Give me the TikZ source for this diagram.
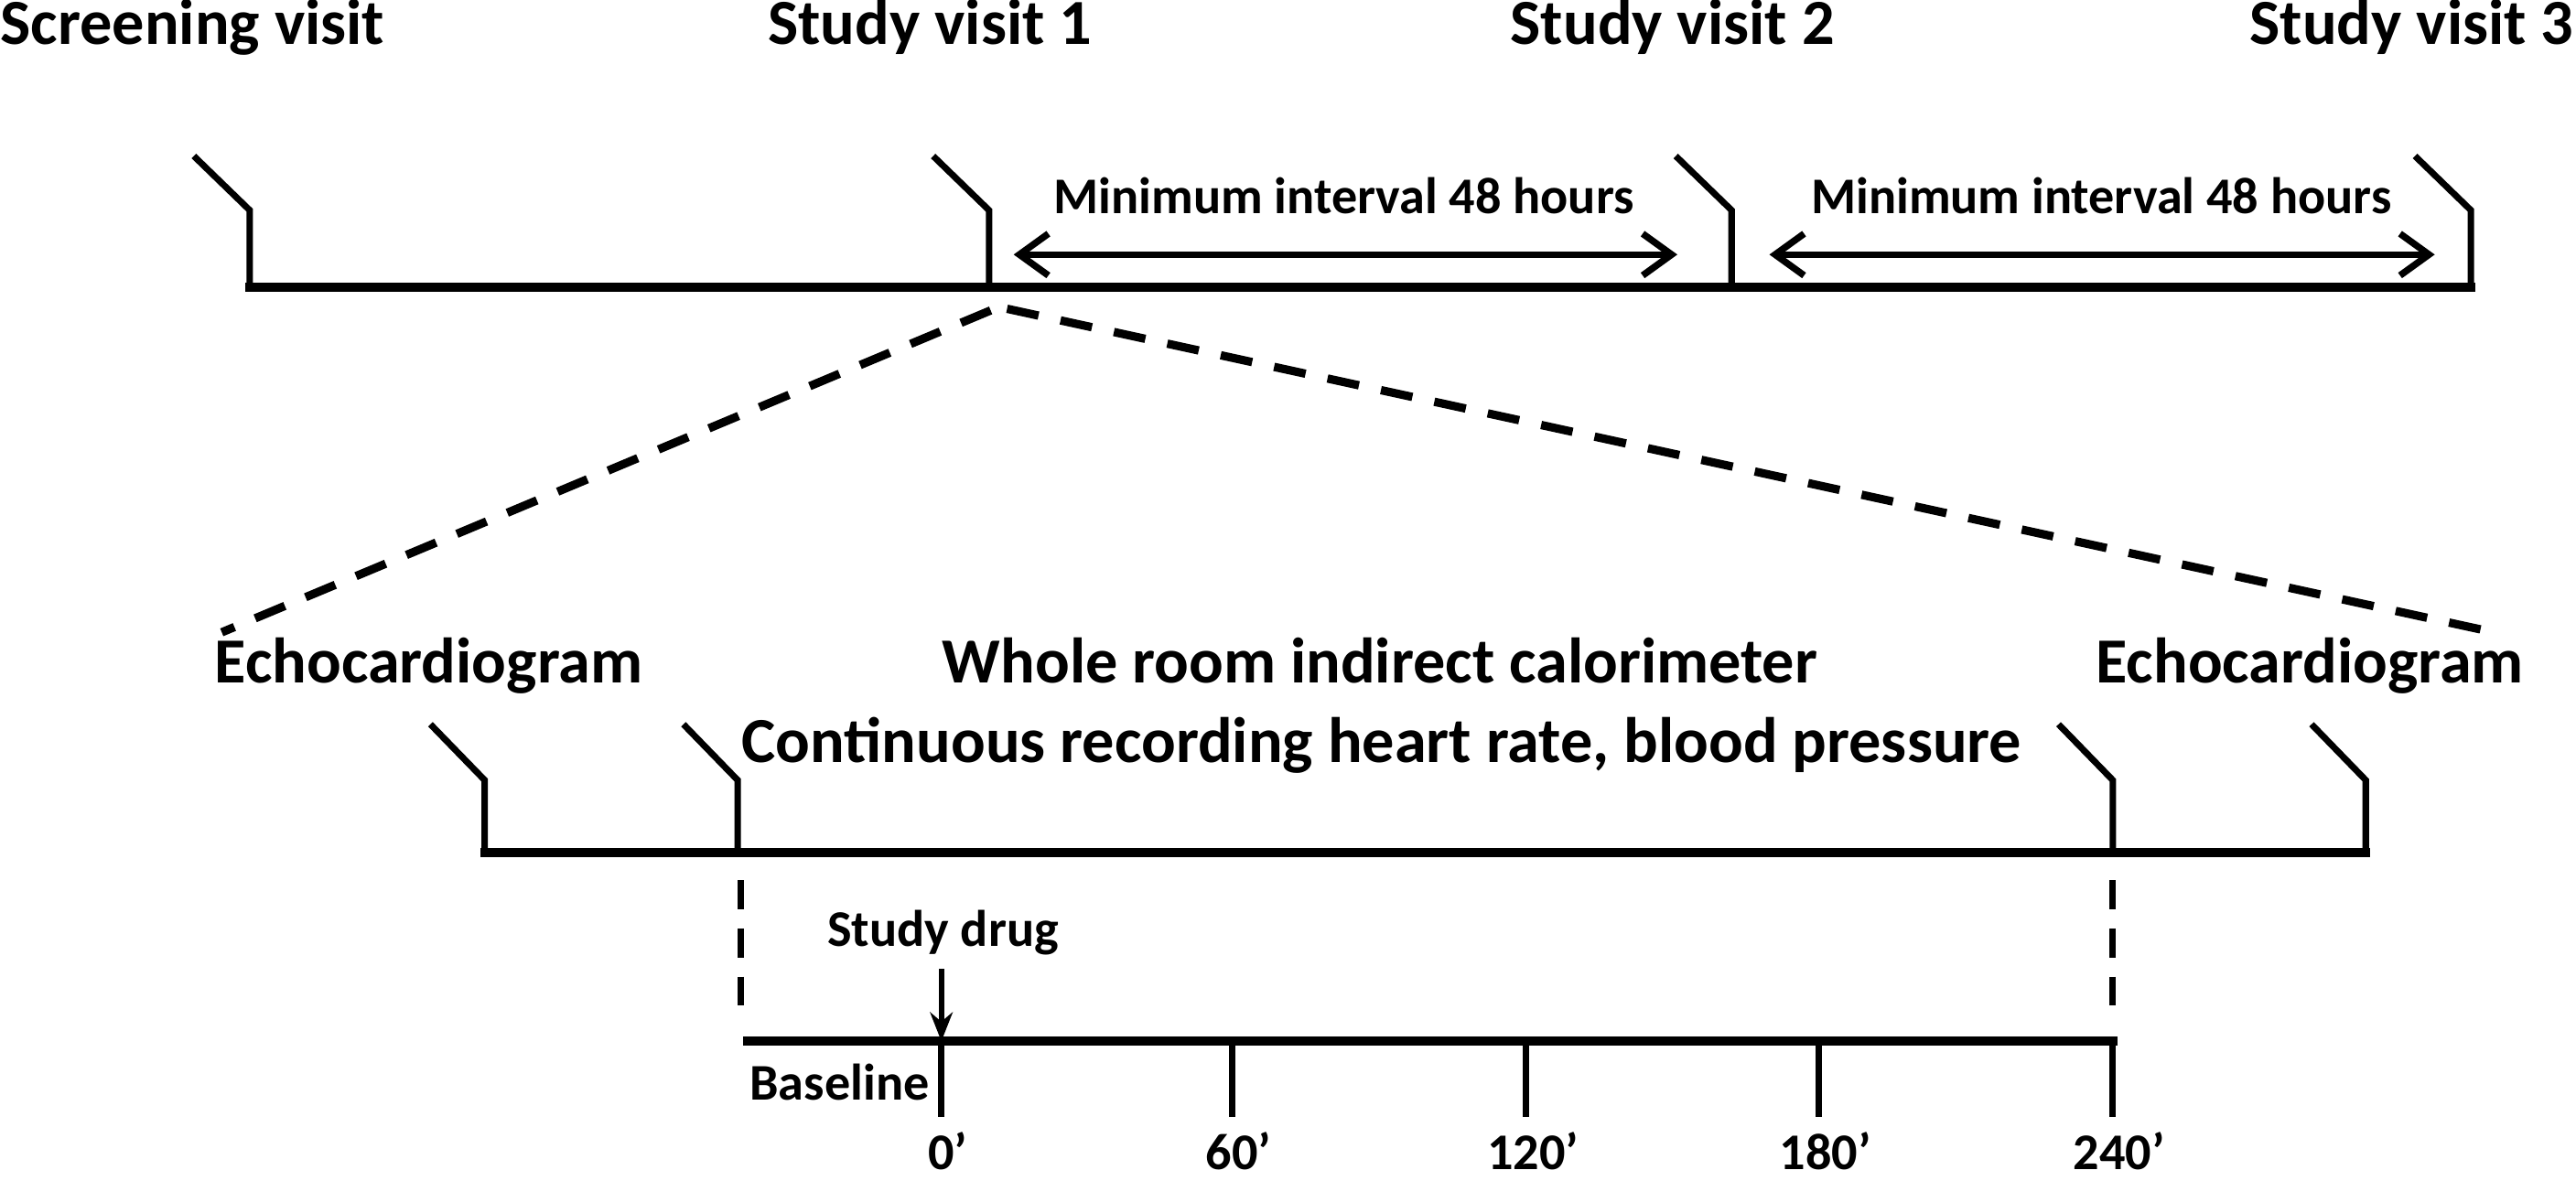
\documentclass[tikz,border=0pt]{standalone}
\usepackage{fontspec}
\setmainfont{Carlito}
\usetikzlibrary{arrows.meta}
\tikzset{>={Straight Barb[length=9pt,width=13pt]}}
\tikzset{
  axisline/.style={line width=2.7pt, line cap=rect},
  flagline/.style={line width=2pt, line join=miter},
  gaparrow/.style={<->, line width=2.1pt},
  zoomline/.style={line width=2.6pt, dash pattern=on 10pt off 7pt},
  guideline/.style={line width=1.9pt, dash pattern=on 9pt off 6pt},
  bigtext/.style={font=\bfseries\fontsize{20}{24}\selectfont, inner sep=0pt, anchor=base},
  smalltext/.style={font=\bfseries\fontsize{16}{19}\selectfont, inner sep=0pt, anchor=base},
}

\begin{document}
\begin{tikzpicture}[x=0.017953cm, y=-0.017953cm]
    \useasboundingbox (0,0) rectangle (1568,719);
    % visits
    \foreach \n/\x in {scr/152, sva/602, svb/1054, svc/1504} {
        \coordinate (\n0) at (\x,175);
        \coordinate (\n1) at (\x,128);
        \coordinate (\n2) at (\x-34,95);
        \draw[flagline] (\n0) -- (\n1) -- (\n2);
    }
    \draw[axisline] (scr0) -- (svc0);
    \node[bigtext, anchor=base west] (scrlbl) at (0,27) {Screening visit};
    \node[bigtext] (sval) at (566,27) {Study visit 1};
    \node[bigtext] (svbl) at (1018,27) {Study visit 2};
    \node[bigtext] (svcl) at (1468,27) {Study visit 3};
    % intervals
    \coordinate (ia1) at (617,155); \coordinate (ia2) at (1021,155);
    \coordinate (ib1) at (1077,155); \coordinate (ib2) at (1482,155);
    \draw[gaparrow] (ia1) -- (ia2);
    \draw[gaparrow] (ib1) -- (ib2);
    \node[smalltext] (inta) at (818,130) {Minimum interval 48 hours};
    \node[smalltext] (intb) at (1279,130) {Minimum interval 48 hours};
    % zoom on visit 1
    \coordinate (apl) at (603,189); \coordinate (apr) at (613,188);
    \coordinate (zl) at (135,385); \coordinate (zr) at (1518,385);
    \draw[zoomline] (apl) -- (zl);
    \draw[zoomline] (apr) -- (zr);
    % study day
    \foreach \n/\x in {eca/295, wra/449, wrb/1286, ecb/1440} {
        \coordinate (\n0) at (\x,519);
        \coordinate (\n1) at (\x,475);
        \coordinate (\n2) at (\x-33,441);
        \draw[flagline] (\n0) -- (\n1) -- (\n2);
    }
    \draw[axisline] (eca0) -- (ecb0);
    \node[bigtext] (echoa) at (261,416) {Echocardiogram};
    \node[bigtext] (echob) at (1406,416) {Echocardiogram};
    \node[bigtext] (calor) at (840,416) {Whole room indirect calorimeter};
    \node[bigtext] (recor) at (841,464) {Continuous recording heart rate, blood pressure};
    % hours
    \coordinate (ga1) at (451,536); \coordinate (ga2) at (451,624);
    \coordinate (gb1) at (1286,536); \coordinate (gb2) at (1286,624);
    \draw[guideline] (ga1) -- (ga2);
    \draw[guideline] (gb1) -- (gb2);
    \coordinate (ts) at (455,634); \coordinate (te) at (1286,634);
    \draw[axisline] (ts) -- (te);
    \foreach \n/\x/\t in {h0/573/0’, h1/750/60’, h2/929/120’, h3/1107/180’, h4/1286/240’} {
        \coordinate (\n) at (\x,634);
        \coordinate (\n b) at (\x,680);
        \draw[flagline] (\n) -- (\n b);
        \node[smalltext] (\n l) at (\x+4,712) {\t};
    }
    \node[smalltext] (drug) at (574,576) {Study drug};
    \coordinate (drugtop) at (573,590);
    \draw[-{Stealth[length=9pt,width=7pt]}, line width=1.6pt] (drugtop) -- (h0);
    \node[smalltext, anchor=base west] (base) at (456,670) {Baseline};
\end{tikzpicture}
\end{document}
